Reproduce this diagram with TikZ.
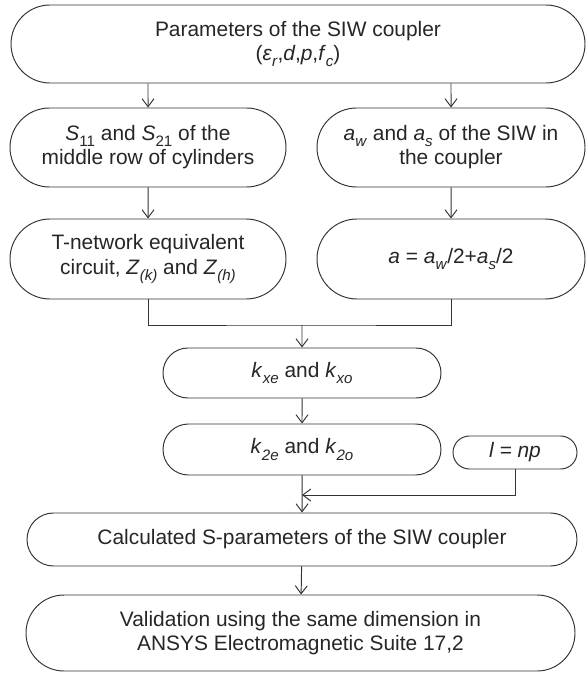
\documentclass[tikz,border=0pt]{standalone}
\usepackage{fontspec}
\setmainfont{Liberation Sans}
\usepackage{tikz}
\usetikzlibrary{shapes.misc, arrows.meta, positioning, calc}
\newcommand{\dn}[1]{\raisebox{-0.55ex}{\fontsize{8.6}{8.6}\selectfont #1}}
\tikzset{
  flowbox/.style={
    draw=black!80, rounded rectangle, line width=0.55pt, align=center,
    font=\fontsize{11.9}{13.7}\selectfont, text=black!85, fill=white,
    inner sep=0pt
  },
  flowarrow/.style={
    -{Straight Barb[length=1.6mm, width=2.4mm]}, line width=0.55pt,
    color=black!80
  },
  flowline/.style={line width=0.55pt, color=black!80},
}
\begin{document}
\begin{tikzpicture}[
  rowbox/.style={flowbox, minimum width=5.52cm, minimum height=1.58cm},
  midbox/.style={flowbox, minimum width=5.56cm, minimum height=1.0cm},
]
  \useasboundingbox (0,0) rectangle (11.72,-13.46);

  % Top: coupler parameters
  \node[flowbox, minimum width=11.48cm, minimum height=1.56cm] (params)
    at (5.96,-0.88)
    {Parameters of the SIW coupler\\(\textit{ε}\dn{\textit{r}},\textit{d},\textit{p},\textit{f}\dn{\textit{c}})};

  % Left branch
  \node[rowbox] (sparam) at (2.96,-2.95)
    {\textit{S}\dn{11} and \textit{S}\dn{21} of the\\middle row of cylinders};
  \node[rowbox, minimum height=1.6cm] (tnet) at (2.96,-5.18)
    {T-network equivalent\\circuit, \textit{Z}\dn{\textit{(k)}} and \textit{Z}\dn{\textit{(h)}}};

  % Right branch
  \node[rowbox, minimum width=5.36cm] (widths) at (9.02,-2.95)
    {\textit{a}\dn{\textit{w}} and \textit{a}\dn{\textit{s}} of the SIW in\\the coupler};
  \node[rowbox, minimum width=5.36cm, minimum height=1.6cm] (aeq) at (9.02,-5.18)
    {\textit{a} = \textit{a}\dn{\textit{w}}/2+\textit{a}\dn{\textit{s}}/2};

  % Coupling coefficients
  \node[midbox] (kx) at (6.04,-7.46)
    {\textit{k}\dn{\textit{xe}} and \textit{k}\dn{\textit{xo}}};
  \node[midbox, minimum height=1.02cm] (k2) at (6.04,-8.99)
    {\textit{k}\dn{\textit{2e}} and \textit{k}\dn{\textit{2o}}};
  \node[flowbox, minimum width=2.48cm, minimum height=0.66cm] (length)
    at (10.30,-9.05) {\textit{l = np}};

  % Results
  \node[flowbox, minimum width=11.0cm, minimum height=1.06cm] (calc)
    at (6.04,-10.79) {Calculated S-parameters of the SIW coupler};
  \node[flowbox, minimum width=10.98cm, minimum height=1.52cm] (valid)
    at (6.01,-12.66)
    {Validation using the same dimension in\\ANSYS Electromagnetic Suite 17,2};

  % Merge points
  \coordinate (join) at (6.04,-6.5);
  \coordinate (merge) at (6.04,-9.9);

  % Arrows: branches
  \draw[flowarrow] (params.south -| sparam) -- (sparam);
  \draw[flowarrow] (params.south -| widths) -- (widths);
  \draw[flowarrow] (sparam) -- (tnet);
  \draw[flowarrow] (widths) -- (aeq);

  % Arrows: to coefficients
  \draw[flowline] (tnet) |- (join) -| (aeq);
  \draw[flowarrow] (join) -- (kx);
  \draw[flowarrow] (kx) -- (k2);

  % Arrows: to results
  \draw[flowarrow] (length) |- (merge);
  \draw[flowarrow] (k2) -- (calc);
  \draw[flowarrow] (calc) -- (valid);
\end{tikzpicture}
\end{document}
